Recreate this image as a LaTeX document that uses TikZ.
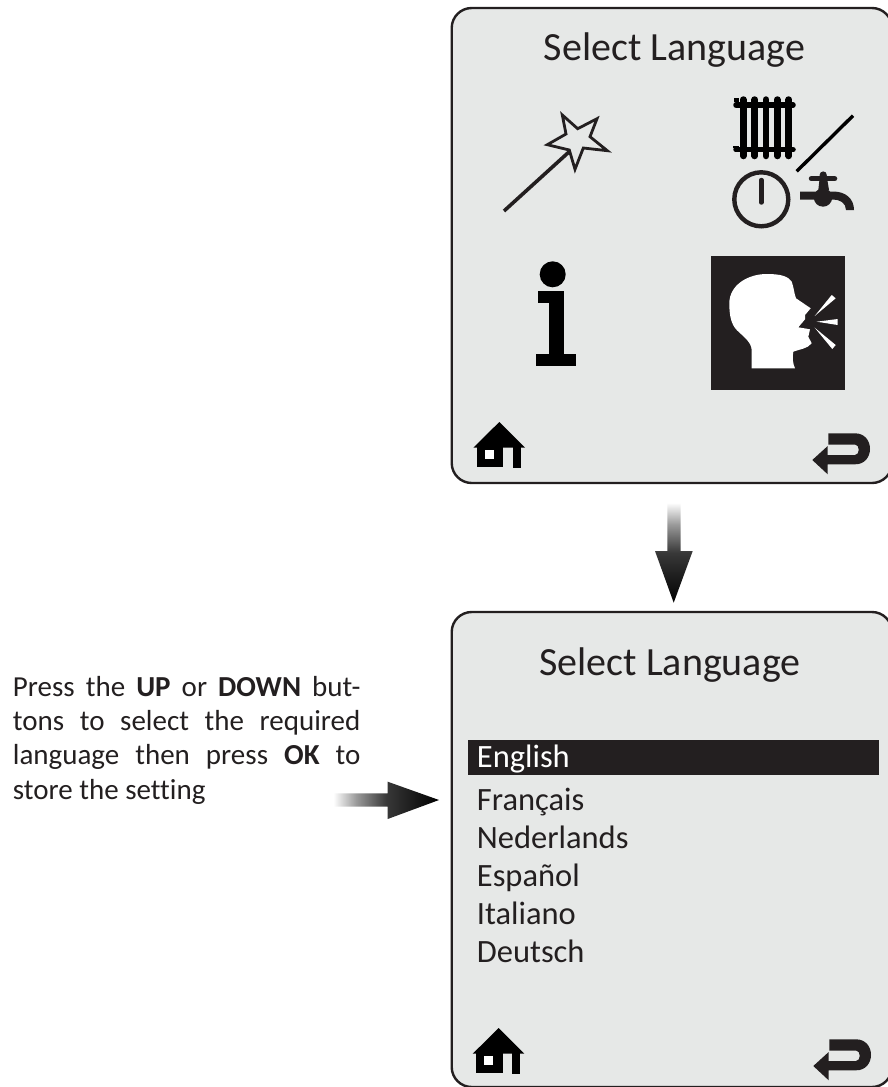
\documentclass[tikz,border=0pt]{standalone}
\usepackage{fontspec}
\setmainfont[Ligatures={NoCommon,TeX}]{Carlito}
\definecolor{ink}{HTML}{231F20}
\definecolor{panelbg}{HTML}{E6E8E7}
\pgfdeclareverticalshading{arrv}{100bp}{color(0bp)=(black);color(25bp)=(black);color(50bp)=(black!78!white);color(64bp)=(black!40!white);color(75bp)=(white);color(100bp)=(white)}
\pgfdeclarehorizontalshading{arrh}{100bp}{color(0bp)=(white);color(25bp)=(white);color(36bp)=(black!40!white);color(50bp)=(black!78!white);color(75bp)=(black);color(100bp)=(black)}
\tikzset{
  x=1pt,y=-1pt,
  panel/.style={draw=ink,fill=panelbg,line width=2.4pt,rounded corners=20pt},
  title/.style={anchor=base,text=ink,inner sep=0pt,font=\fontsize{40}{40}\selectfont},
  item/.style={anchor=base west,text=ink,inner sep=0pt,font=\fontsize{32.5}{33}\selectfont},
  note/.style={anchor=base west,text=ink,inner sep=0pt,font=\fontsize{29}{30}\selectfont}
}
\newcommand{\homeicon}[2]{%
  \begin{scope}[xshift=#1,yshift=#2]
  \fill[black] (499.3,422)--(525,447.7)--(473.3,447.7)--cycle;
  \fill[black] (477,447)rectangle(503.3,466.7);
  \fill[black] (513,447)rectangle(521,468);
  \fill[white] (485,450)rectangle(494,459);
  \end{scope}}
\newcommand{\backicon}[2]{%
  \begin{scope}[xshift=#1,yshift=#2]
  \fill[ink] (812.3,460)--(827.7,446)--(827.7,455)--(855,455)
    .. controls (860,455) and (860,444.5) .. (855,444.5)--(828.3,444.5)--(828.3,433.3)--(855,433.3)
    .. controls (875,433.3) and (875,464.5) .. (855,464.3)--(827.7,464.3)--(827.7,474.3)--cycle;
  \end{scope}}
\begin{document}
\begin{tikzpicture}
\useasboundingbox (0,0) rectangle (888,1087);
\clip (0,0) rectangle (888,1087);
\draw[panel] (451.7,8) rectangle (892,483);
\draw[panel] (451.7,612) rectangle (892,1087);
\node[title] (t1) at (674.5,60) {Select Language};
\node[title] (t2) at (670,675) {Select Language};
% wand
\draw[ink,line width=3.6pt] (504,211)--(570,151);
\draw[ink,line width=2.8pt,fill=panelbg,line join=miter] (562.3,115)--(577.7,128.7)--(597,118.7)--(590,136.7)--(607.3,150.7)--(583.3,148)--(575,169.3)--(569.3,150)--(547.3,144.7)--(566,134)--cycle;
% radiator
\foreach \xx in {743.3,754.7,766,777.3,788.7}{
  \draw[black,line width=6.5pt,line cap=round] (\xx,99.5)--(\xx,156);}
\draw[black,line width=5.5pt,line cap=round] (736,105)--(793,105);
\draw[black,line width=5.5pt,line cap=round] (736,149.7)--(793,149.7);
\fill[black] (734,98) rectangle (739,102);
\draw[black,line width=2pt] (733,147)--(739,147);
\draw[black,line width=3.4pt] (796.7,171.3)--(853,115.7);
% clock
\draw[ink,line width=4.4pt] (761.3,199.3) circle (27pt);
\draw[ink,line width=4.4pt,line cap=round] (761.3,180)--(761.3,202.5);
% tap
\draw[ink,line width=5.5pt,line cap=round] (811.5,178.7)--(834.5,178.7);
\fill[ink] (818.3,190)--(820,175)--(826.5,175)--(829,190)--cycle;
\fill[ink] (823.2,175) circle (3.6pt);
\fill[ink] (823,197.5) circle (9.2pt);
\fill[ink] (800,191.5)--(833,191.5) .. controls (846,191.5) and (854,199) .. (854,210)--(846,210) .. controls (846,203) and (840,199.5) .. (833,199.5)--(800,199.5)--cycle;
% head
\fill[ink] (711,256) rectangle (845,390);
\fill[white] (751.7,368.3)--(751.7,350) .. controls (751,342) and (745,338) .. (736.7,330) .. controls (731,324) and (729.3,315) .. (729.3,303.3) .. controls (729.3,285) and (748,274) .. (766.7,274) .. controls (780,274) and (788,276) .. (791.7,281.7) .. controls (794,288) and (794,293) .. (796,298.3)--(810.7,308.3)--(805,315)--(805,319.3)--(798.3,327.3)--(810,329.3)--(808.3,336.7)--(811.7,343.3) .. controls (807,349) and (800,349) .. (793.3,351.7) .. controls (792,358) and (793,364) .. (795,368.3)--cycle;
\fill[white] (814.7,316)--(831.7,295)--(835.7,298.3)--cycle;
\fill[white] (816.7,321.7)--(837.7,319)--(837.7,325)--cycle;
\fill[white] (814.7,327.7)--(835.7,345)--(832.3,349)--cycle;
% info
\fill[black] (552.7,274.3) circle (13pt);
\fill[black] (537.7,290.7)rectangle(564.3,302.7);
\fill[black] (549.3,290.7)rectangle(564.3,360);
\fill[black] (535.7,354.3)rectangle(575.7,366.3);
\homeicon{0}{0}
\backicon{0}{0}
% arrows
\shade[shading=arrv] (667.3,502.7)--(680.7,502.7)--(680.7,551)--(692.7,551)--(673.7,602.7)--(655,551)--(667.3,551)--cycle;
\shade[shading=arrh] (333.3,793.3)--(387.7,793.3)--(387.7,781.7)--(439,800)--(387.7,819)--(387.7,806.7)--(333.3,806.7)--cycle;
% list
\fill[ink] (468,740) rectangle (879,775);
\node[item,text=white] (l0) at (476.7,767.3) {English};
\node[item] (l1) at (476.7,810) {Français};
\node[item] (l2) at (476.7,848.3) {Nederlands};
\node[item] (l3) at (476.7,886) {Español};
\node[item] (l4) at (476.7,924) {Italiano};
\node[item] (l5) at (476.7,962.7) {Deutsch};
\homeicon{-0.6}{-606}
\backicon{1}{-606}
\node[note] (n1) at (12.7,696) {\makebox[347.5pt][s]{Press the \textbf{UP} or \textbf{DOWN} but-}};
\node[note] (n2) at (12.7,730) {\makebox[347.5pt][s]{tons to select the required}};
\node[note] (n3) at (12.7,764) {\makebox[347.5pt][s]{language then press \textbf{OK} to}};
\node[note] (n4) at (12.7,799.3) {store the setting};
\end{tikzpicture}
\end{document}
